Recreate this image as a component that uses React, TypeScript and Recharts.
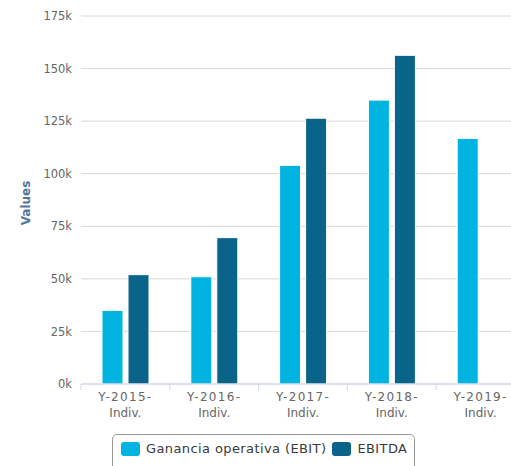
import { BarChart, Bar, XAxis, YAxis, CartesianGrid } from 'recharts';

const categories = ['Y-2015- Indiv.', 'Y-2016- Indiv.', 'Y-2017- Indiv.', 'Y-2018- Indiv.', 'Y-2019- Indiv.'];
const ebit = [35000, 51000, 104000, 135000, 116800];
const ebitda = [52000, 69600, 126400, 156300, null];
const yTicks = [0, 25000, 50000, 75000, 100000, 125000, 150000, 175000];

const series = [
  { key: 'ebit', name: 'Ganancia operativa (EBIT)', color: '#00b3e0' },
  { key: 'ebitda', name: 'EBITDA', color: '#0a6489' },
];

const data = categories.map((c, i) => ({ name: c, ebit: ebit[i], ebitda: ebitda[i] }));

const FONT = '"DejaVu Sans", sans-serif';

const XTick = (props: any) => {
  const { x, y, payload } = props;
  const half = payload.offset || 44.4;
  const [l1, l2] = String(payload.value).split(' ');
  return (
    <g>
      <line x1={x - half} x2={x - half} y1={y} y2={y + 6} stroke="#ccd6eb" />
      <text x={x} y={y + 17} textAnchor="middle" fill="#666" fontSize={12} letterSpacing={1.3} fontFamily={FONT}>
        {l1}
      </text>
      <text x={x} y={y + 33} textAnchor="middle" fill="#666" fontSize={12} fontFamily={FONT}>
        {l2}
      </text>
    </g>
  );
};

export default function App() {
  return (
    <div style={{ position: 'fixed', left: 0, top: 0, width: 511, height: 466, overflow: 'hidden', background: '#fff', fontFamily: FONT }}>
      <BarChart
        width={530}
        height={466}
        data={data}
        margin={{ top: 16, right: 5, left: 0, bottom: 42 }}
        barSize={21}
        barGap={5}
      >
        <CartesianGrid horizontal vertical={false} stroke="#d8d8d8" />
        <XAxis
          dataKey="name"
          height={40}
          axisLine={{ stroke: '#ccd6eb' }}
          tickLine={false}
          tickSize={0}
          tickMargin={0}
          interval={0}
          tick={<XTick />}
        />
        <YAxis
          width={81}
          domain={[0, 175000]}
          ticks={yTicks}
          axisLine={false}
          tickLine={false}
          tickSize={0}
          tickMargin={9}
          tick={{ fill: '#666', fontSize: 11.5, fontFamily: FONT }}
          tickFormatter={(v: number) => `${v / 1000}k`}
          label={{
            content: () => (
              <text
                x={0}
                y={0}
                transform="translate(30, 203) rotate(-90)"
                textAnchor="middle"
                fill="#4d759e"
                fontSize={12}
                fontWeight="bold"
                fontFamily={FONT}
              >
                Values
              </text>
            ),
          }}
        />
        {series.map((s) => (
          <Bar key={s.key} dataKey={s.key} name={s.name} fill={s.color} stroke="#ffffff" strokeWidth={1} isAnimationActive={false} />
        ))}
      </BarChart>
      <div
        style={{
          position: 'absolute',
          left: 112,
          top: 434,
          width: 303,
          height: 40,
          border: '1px solid #999',
          borderRadius: 5,
          boxSizing: 'border-box',
          display: 'flex',
          alignItems: 'flex-start',
          paddingTop: 6,
          paddingLeft: 8,
          fontSize: 13,
          letterSpacing: 0.4,
          color: '#3a3a3a',
        }}
      >
        {series.map((s) => (
          <div key={s.key} style={{ display: 'flex', alignItems: 'center', marginRight: 6 }}>
            <span style={{ display: 'inline-block', width: 19, height: 14, borderRadius: 3, background: s.color, marginRight: 6 }} />
            <span>{s.name}</span>
          </div>
        ))}
      </div>
    </div>
  );
}
